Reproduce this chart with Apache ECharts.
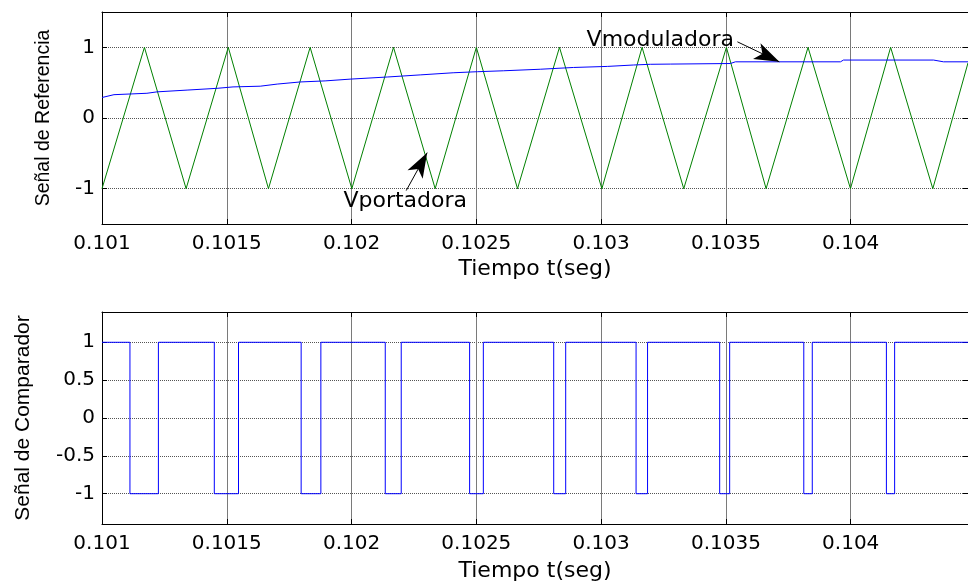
<!DOCTYPE html>
<html><head><meta charset="utf-8">
<script src="https://cdn.jsdelivr.net/npm/echarts@6/dist/echarts.min.js"></script>
<style>html,body{margin:0;padding:0;background:#fff}#c{width:968px;height:583px}</style>
</head><body><div id="c"></div>
<script>
// ---- data ----
const xTicks = [0.101, 0.1015, 0.102, 0.1025, 0.103, 0.1035, 0.104];
const yTicksTop = [-1, 0, 1];
const yTicksBottom = [-1, -0.5, 0, 0.5, 1];

// carrier (Vportadora) vertices
const carrierT = [0.10100, 0.101170, 0.101337, 0.101506, 0.101667, 0.101834, 0.102001, 0.102168,
  0.102335, 0.102500, 0.102665, 0.102833, 0.103003, 0.103164, 0.103331, 0.103502, 0.103661,
  0.103829, 0.103999, 0.104160, 0.104329, 0.10447];
const carrierV = [-1, 1, -1, 1, -1, 1, -1, 1, -1, 1, -1, 1, -1, 1, -1, 1, -1, 1, -1, 1, -1, 0.78];

// modulating signal (Vmoduladora)
const modT = [0.101000, 0.101048, 0.101180, 0.101221, 0.101341, 0.101461, 0.101525, 0.101634,
  0.101702, 0.101794, 0.101894, 0.101994, 0.102143, 0.102275, 0.102407, 0.102504, 0.102608,
  0.102756, 0.102889, 0.103025, 0.103129, 0.103197, 0.103277, 0.103518, 0.103538, 0.103959,
  0.103971, 0.104332, 0.104372, 0.10447];
const modV = [0.29, 0.33, 0.35, 0.37, 0.395, 0.42, 0.44, 0.45, 0.48, 0.51, 0.525, 0.55, 0.58,
  0.61, 0.64, 0.655, 0.668, 0.69, 0.715, 0.73, 0.75, 0.76, 0.763, 0.771, 0.795, 0.795, 0.82,
  0.82, 0.795, 0.795];

// comparator output (switching instants and level after each instant)
const compT = [0.101000, 0.101112, 0.101226, 0.101450, 0.101547, 0.101798, 0.101877, 0.102135,
  0.102199, 0.102473, 0.102528, 0.102810, 0.102858, 0.103140, 0.103186, 0.103475, 0.103515,
  0.103812, 0.103846, 0.104143, 0.104176, 0.10447];
const compV = [1, -1, 1, -1, 1, -1, 1, -1, 1, -1, 1, -1, 1, -1, 1, -1, 1, -1, 1, -1, 1, 1];

// annotations: label centres and arrows (data coordinates, arrow ends at its tip)
const labelMod = {text: 'Vmoduladora', t: 0.103237, v: 1.099};
const labelPort = {text: 'Vportadora', t: 0.102215, v: -1.182};
const arrowMod = [[0.103546, 1.078], [0.103714, 0.795]];
const arrowPort = [[0.102219, -1.027], [0.102303, -0.49]];

const zip = (a, b) => a.map((x, i) => [x, b[i]]);
const X_MIN = 0.101, X_MAX = 0.10447;
const TICK_FONT = 'DejaVu Sans';
const fmtX = v => String(parseFloat(Number(v).toPrecision(6)));

function xAxisPair(grid, name, nameGap) {
  return [{
    type: 'value', gridIndex: grid, position: 'bottom', min: X_MIN, max: X_MAX, interval: 0.0005,
    axisLine: {show: true, onZero: false, lineStyle: {color: '#000', width: 1}},
    axisTick: {show: true, inside: true, length: 5, customValues: xTicks, lineStyle: {color: '#000'}},
    axisLabel: {show: true, customValues: xTicks, margin: 10, fontSize: 20, fontFamily: TICK_FONT,
      color: '#000', formatter: fmtX},
    splitLine: {show: true, lineStyle: {color: '#7a7a7a', width: 1, type: 'solid'}},
    name: name, nameLocation: 'middle', nameGap: nameGap,
    nameTextStyle: {fontSize: 22, fontFamily: TICK_FONT, color: '#000'}
  }, {
    type: 'value', gridIndex: grid, position: 'top', min: X_MIN, max: X_MAX, interval: 0.0005,
    axisLine: {show: true, onZero: false, lineStyle: {color: '#000', width: 1}},
    axisTick: {show: true, inside: true, length: 5, customValues: xTicks, lineStyle: {color: '#000'}},
    axisLabel: {show: false}, splitLine: {show: false}
  }];
}
function yAxisPair(grid, min, max, ticks, name, nameGap, nameSize) {
  return [{
    type: 'value', gridIndex: grid, position: 'left', min: min, max: max, interval: 0.5,
    axisLine: {show: true, onZero: false, lineStyle: {color: '#000', width: 1}},
    axisTick: {show: true, inside: true, length: 5, customValues: ticks, lineStyle: {color: '#000'}},
    axisLabel: {show: true, customValues: ticks, margin: 7, fontSize: 20, fontFamily: TICK_FONT, color: '#000'},
    splitLine: {show: true, lineStyle: {color: '#555', width: 1, type: [1, 1]}},
    name: name, nameLocation: 'middle', nameGap: nameGap, nameRotate: 90,
    nameTextStyle: {fontSize: nameSize, fontFamily: 'Liberation Sans', color: '#000'}
  }, {
    type: 'value', gridIndex: grid, position: 'right', min: min, max: max, interval: 0.5,
    axisLine: {show: true, onZero: false, lineStyle: {color: '#000', width: 1}},
    axisTick: {show: true, inside: true, length: 5, customValues: ticks, lineStyle: {color: '#000'}},
    axisLabel: {show: false}, splitLine: {show: false}
  }];
}

const arrowLine = (pts) => ({
  silent: true, symbol: ['none', 'arrow'], symbolSize: [13, 25],
  lineStyle: {color: '#000', width: 1, type: 'solid'},
  label: {show: false}, emphasis: {disabled: true},
  data: [[{coord: pts[0]}, {coord: pts[1]}]]
});
const textPoint = (lab) => ({
  silent: true, symbol: 'circle', symbolSize: 1, itemStyle: {color: 'rgba(0,0,0,0)'},
  label: {show: true, position: 'inside', formatter: lab.text, fontSize: 22,
    fontFamily: TICK_FONT, color: '#000'},
  data: [{coord: [lab.t, lab.v]}]
});

const chart = echarts.init(document.getElementById('c'));
chart.setOption({
  animation: false,
  backgroundColor: '#fff',
  grid: [
    {left: 102, right: 0, top: 12, height: 212},
    {left: 102, right: 0, top: 312, height: 215}
  ],
  xAxis: [...xAxisPair(0, 'Tiempo t(seg)', 34), ...xAxisPair(1, 'Tiempo t(seg)', 36)],
  yAxis: [...yAxisPair(0, -1.5, 1.5, yTicksTop, 'Señal de Referencia', 48, 19.5),
          ...yAxisPair(1, -1.4, 1.4, yTicksBottom, 'Señal de Comparador', 68, 21)],
  series: [
    {type: 'line', name: 'Vportadora', xAxisIndex: 0, yAxisIndex: 0, data: zip(carrierT, carrierV),
      showSymbol: false, color: '#008000', lineStyle: {width: 1, color: '#008000'},
      markLine: arrowLine(arrowPort), markPoint: textPoint(labelPort)},
    {type: 'line', name: 'Vmoduladora', xAxisIndex: 0, yAxisIndex: 0, data: zip(modT, modV),
      showSymbol: false, color: '#0000ff', lineStyle: {width: 1, color: '#0000ff'},
      markLine: arrowLine(arrowMod), markPoint: textPoint(labelMod)},
    {type: 'line', name: 'Comparador', xAxisIndex: 2, yAxisIndex: 2, data: zip(compT, compV),
      step: 'end', showSymbol: false, color: '#0000ff', lineStyle: {width: 1, color: '#0000ff'}}
  ]
});
</script>
</body></html>
